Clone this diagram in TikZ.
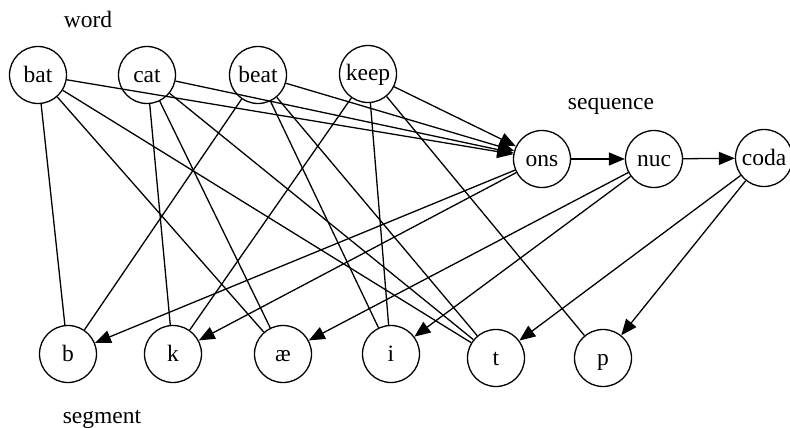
\documentclass[tikz,border=0pt]{standalone}
\usepackage{fontspec}
\setmainfont{Liberation Serif}
\usetikzlibrary{arrows.meta}
\begin{document}
\begin{tikzpicture}[x=1pt,y=-1pt,
  state/.style={circle,draw,line width=1.3pt,minimum size=57pt,inner sep=0pt,
    text height=15pt,text depth=1pt,font=\fontsize{23.5}{28}\selectfont},
  caption/.style={anchor=base,inner sep=0pt,font=\fontsize{23.5}{28}\selectfont},
  link/.style={line width=1.3pt},
  flow/.style={line width=1.3pt,-{Triangle[length=16pt,width=13pt]}}]
\useasboundingbox (0,0) rectangle (790,428);

% group labels
\node[caption] (lword) at (88,27.5) {word};
\node[caption] (lseq) at (611,110) {sequence};
\node[caption] (lseg) at (102,423) {segment};

% words
\node[state] (bat)  at (38,75)  {bat};
\node[state] (cat)  at (147,75) {cat};
\node[state] (beat) at (258,75) {beat};
\node[state] (keep) at (368,74) {keep};

% syllable positions
\node[state] (ons)  at (542,159) {ons};
\node[state] (nuc)  at (654,159) {nuc};
\node[state] (coda) at (764,158) {coda};

% segments
\node[state] (b)  at (68,354)  {b};
\node[state] (k)  at (173,354) {k};
\node[state] (ae) at (283,354) {æ};
\node[state] (i)  at (391,354) {i};
\node[state] (t)  at (496,358) {t};
\node[state] (p)  at (603,358) {p};

% word to segment
\draw[link] (bat) -- (b);
\draw[link] (bat) -- (ae);
\draw[link] (bat) -- (t);
\draw[link] (cat) -- (k);
\draw[link] (cat) -- (ae);
\draw[link] (cat) -- (t);
\draw[link] (beat) -- (b);
\draw[link] (beat) -- (i);
\draw[link] (beat) -- (t);
\draw[link] (keep) -- (k);
\draw[link] (keep) -- (i);
\draw[link] (keep) -- (p);

% word to onset
\draw[flow] (bat) -- (ons);
\draw[flow] (cat) -- (ons);
\draw[flow] (beat) -- (ons);
\draw[flow] (keep) -- (ons);

% sequence chain
\draw[flow] (ons) -- (nuc);
\draw[flow] (nuc) -- (coda);

% positions to segments
\draw[flow] (ons) -- (b);
\draw[flow] (ons) -- (k);
\draw[flow] (nuc) -- (ae);
\draw[flow] (nuc) -- (i);
\draw[flow] (coda) -- (t);
\draw[flow] (coda) -- (p);
\end{tikzpicture}
\end{document}
